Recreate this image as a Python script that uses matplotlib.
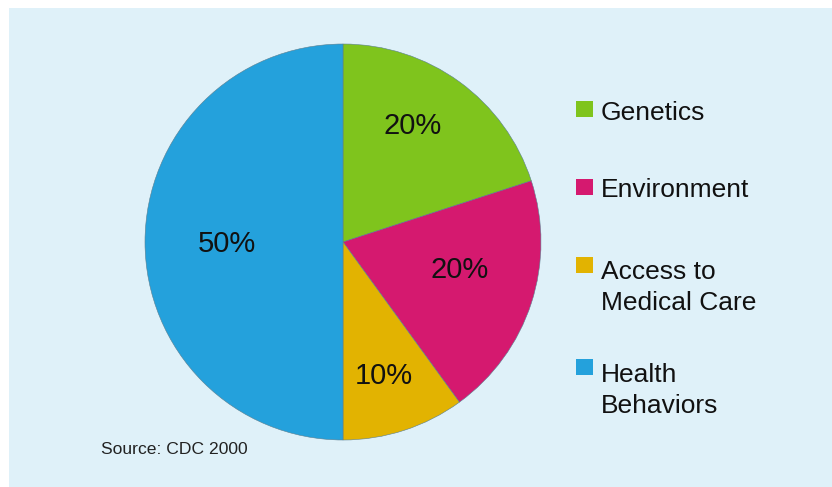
import matplotlib
matplotlib.use("Agg")
import matplotlib.pyplot as plt
from matplotlib.patches import Rectangle

# ---- data ----
categories = ["Genetics", "Environment", "Access to\nMedical Care", "Health\nBehaviors"]
values = [20, 20, 10, 50]
colors = ["#7fc41d", "#d5196f", "#e2b301", "#24a1dc"]
source_text = "Source: CDC 2000"

# ---- layout (pixel coordinates) ----
W, H = 832, 487
plt.rcParams["font.family"] = ["Liberation Sans", "DejaVu Sans"]

fig = plt.figure(figsize=(W / 100, H / 100), dpi=100, facecolor="#dff1f9")
# white strips on top and left edges
fig.patches.append(Rectangle((0, H - 8), W, 8, transform=None, facecolor="white", edgecolor="none"))
fig.patches.append(Rectangle((0, 0), 9, H, transform=None, facecolor="white", edgecolor="none"))

ax = fig.add_axes([0, 0, 1, 1])
ax.patch.set_alpha(0)
ax.axis("off")

center = (343, 242)
radius = 198
wedges, texts, autotexts = ax.pie(
    values,
    colors=colors,
    startangle=-90,
    counterclock=True,
    center=center,
    radius=radius,
    autopct=lambda p: f"{p:.0f}%",
    wedgeprops=dict(edgecolor="#5a7f90", linewidth=0.4),
    textprops=dict(fontsize=21, color="#111111"),
)
ax.set_aspect("auto")
ax.set_xlim(0, W)
ax.set_ylim(H, 0)

pct_label_xy = [(413, 126), (460, 270), (383.5, 376), (226.5, 244)]
for t, xy in zip(autotexts, pct_label_xy):
    t.set_position(xy)
    t.set_ha("center")
    t.set_va("center")

# legend
legend_sq_cy = [109, 186.5, 265, 367]
legend_baseline = [120, 197, 274, 377]
line_step = 36
for lab, col, cy, by in zip(categories, colors, legend_sq_cy, legend_baseline):
    ax.add_patch(Rectangle((576, cy - 8), 17, 16, facecolor=col, edgecolor="none", zorder=3))
    ax.text(601, by + lab.count("\n") * line_step, lab, fontsize=19, color="#111111",
            ha="left", va="baseline", linespacing=1.38, zorder=3)

ax.text(101, 454, source_text, fontsize=12.6, color="#222222", ha="left", va="baseline")

fig.savefig("out.png", dpi=100, facecolor=fig.get_facecolor())
